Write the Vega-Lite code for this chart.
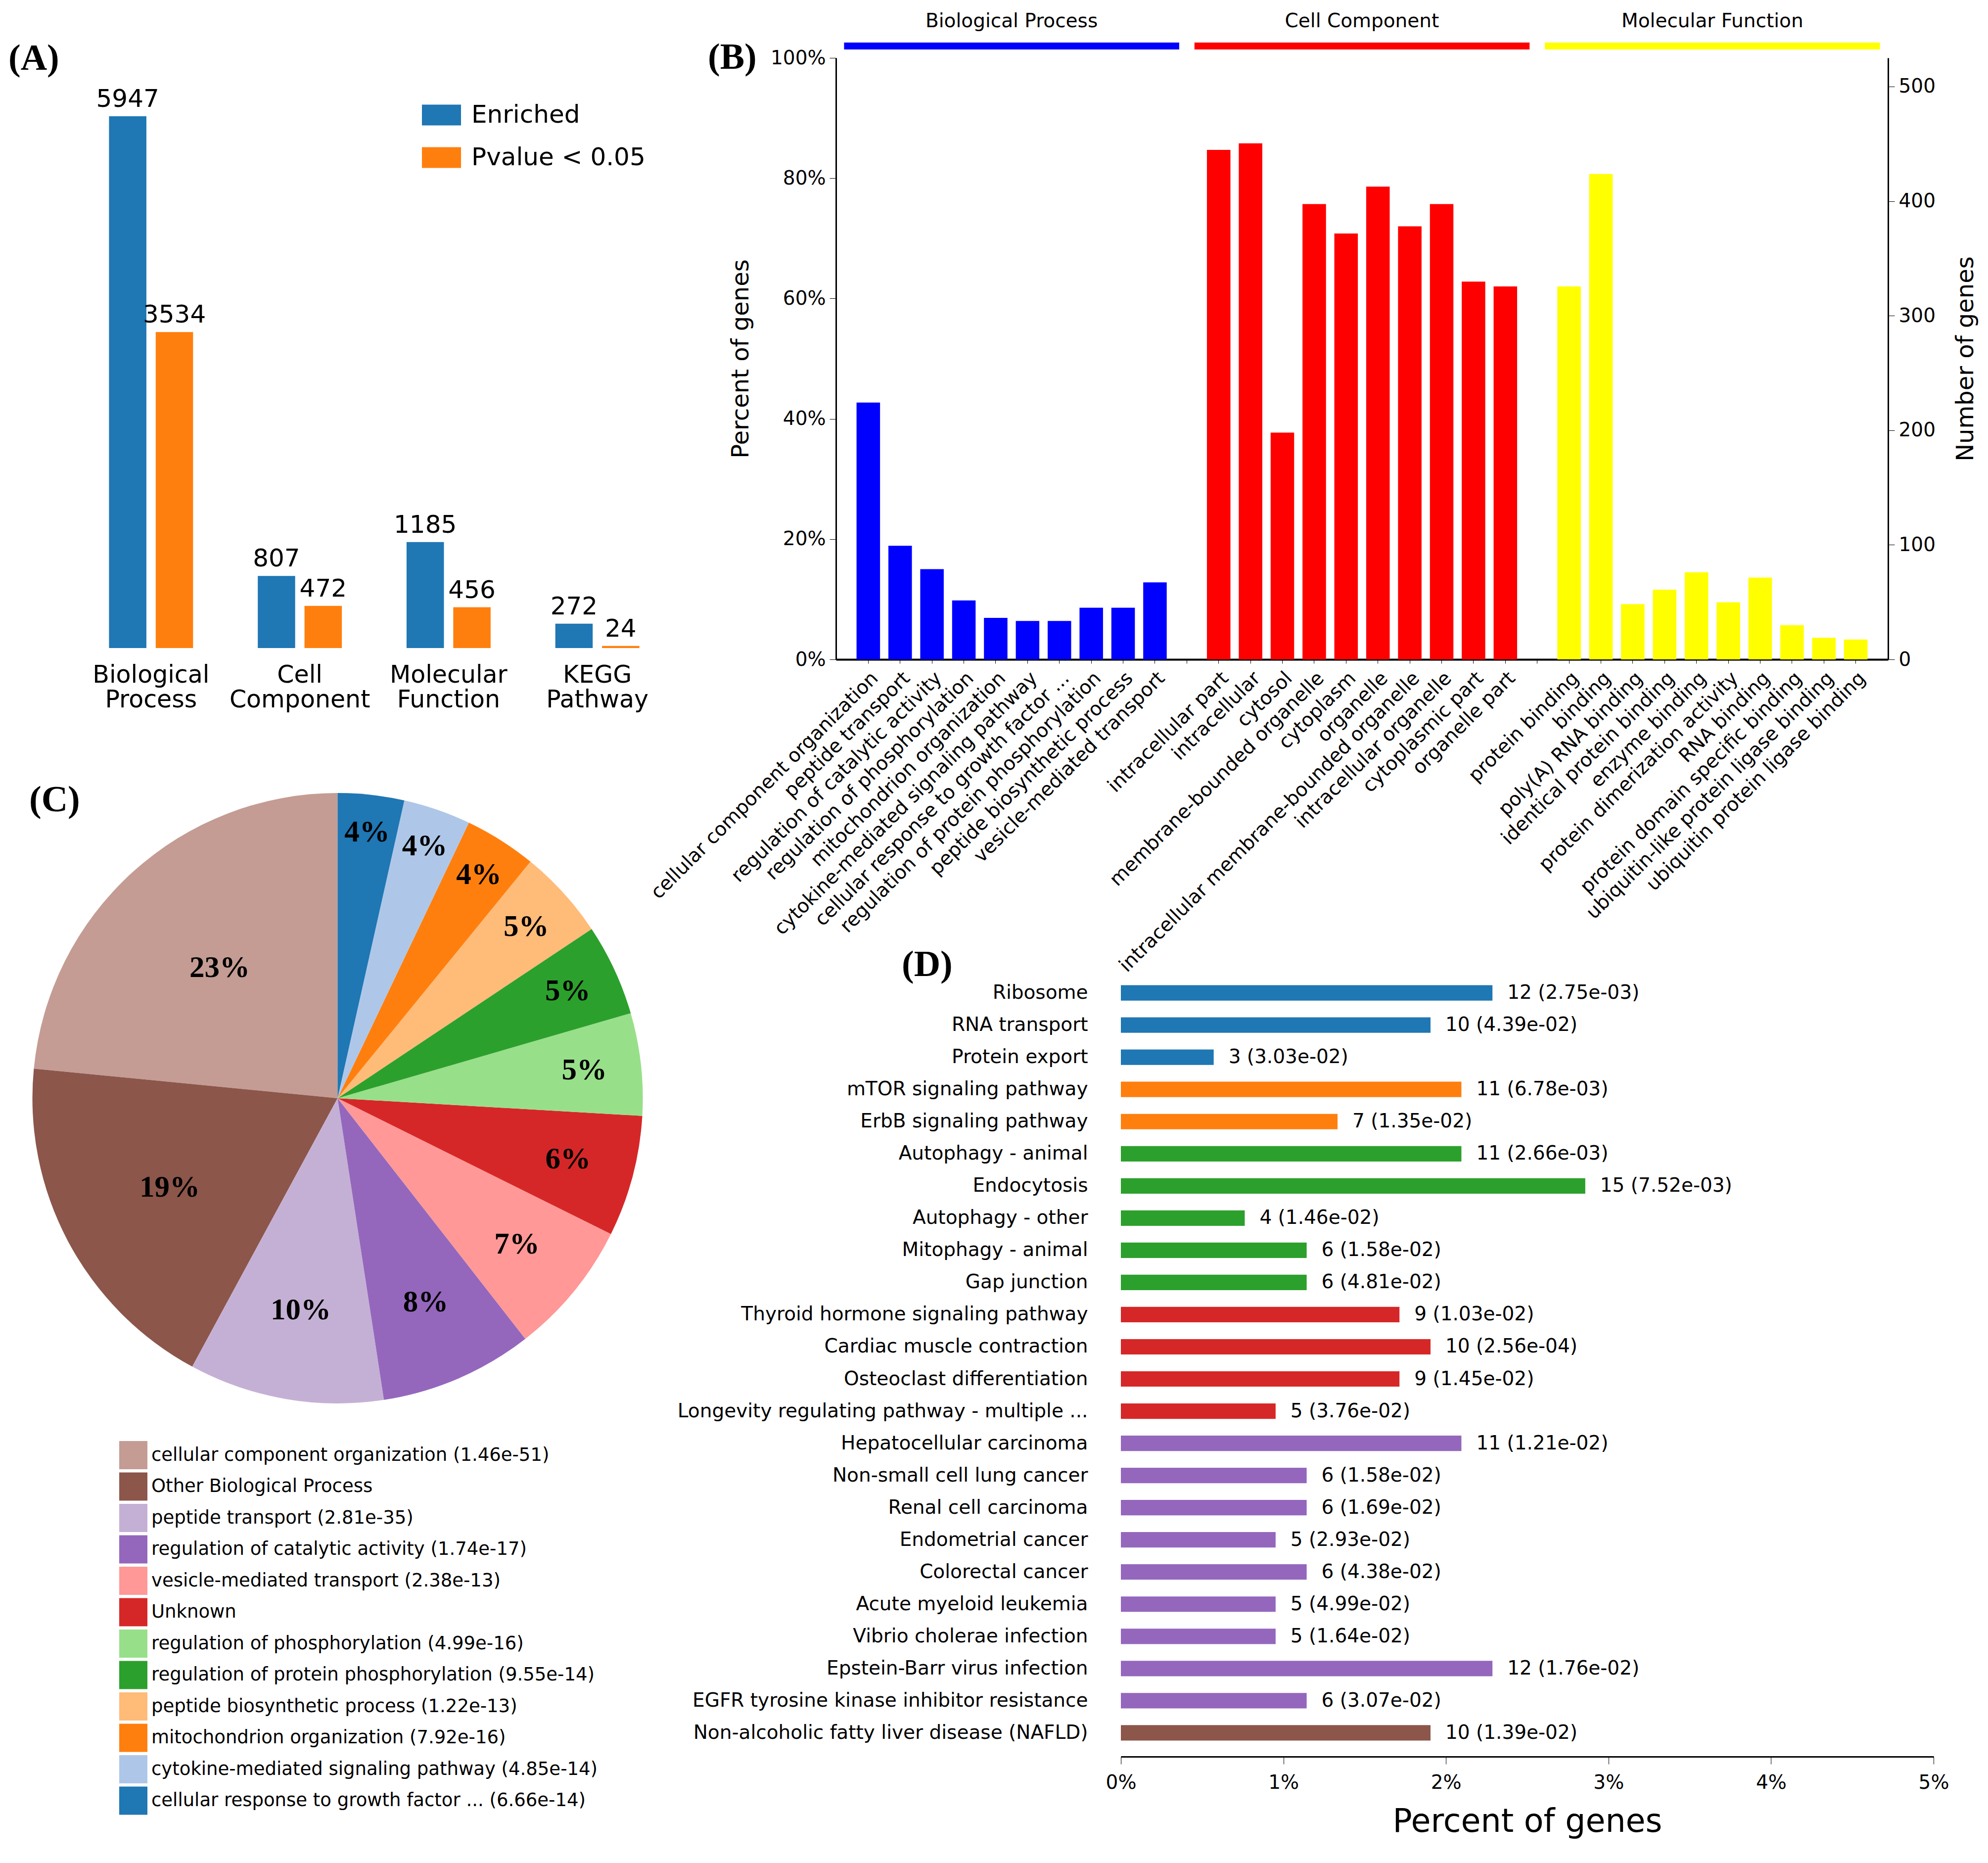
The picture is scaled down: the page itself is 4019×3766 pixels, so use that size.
{
 "$schema": "https://vega.github.io/schema/vega-lite/v6.json",
 "background": "white",
 "padding": {"left": 17, "top": 23, "right": 10, "bottom": 10},
 "columns": 2,
 "bounds": "flush",
 "align": "each",
 "spacing": {"row": 626, "column": 332},
 "resolve": {"scale": {"color": "independent"}, "legend": {"color": "independent"}},
 "config": {
  "view": {"stroke": null},
  "font": "DejaVu Sans",
  "axis": {"grid": false, "labelColor": "#000000", "titleColor": "#000000", "tickColor": "#000000", "domainColor": "#000000", "labelFont": "DejaVu Sans", "titleFont": "DejaVu Sans", "titleFontWeight": "normal"},
  "legend": {"labelColor": "#000000", "labelFont": "DejaVu Sans"},
  "title": {"font": "Liberation Serif", "fontWeight": "bold", "fontSize": 74, "color": "#000000", "anchor": "start", "frame": "group", "baseline": "bottom"}
 },
 "datasets": {
  "summary": [
   {"category": "Biological Process", "series": "Enriched", "count": 5947},
   {"category": "Biological Process", "series": "Pvalue < 0.05", "count": 3534},
   {"category": "Cell Component", "series": "Enriched", "count": 807},
   {"category": "Cell Component", "series": "Pvalue < 0.05", "count": 472},
   {"category": "Molecular Function", "series": "Enriched", "count": 1185},
   {"category": "Molecular Function", "series": "Pvalue < 0.05", "count": 456},
   {"category": "KEGG Pathway", "series": "Enriched", "count": 272},
   {"category": "KEGG Pathway", "series": "Pvalue < 0.05", "count": 24}
  ],
  "go": [
   {"term": "cellular component organization", "group": "Biological Process", "pct": 0.427},
   {"term": "peptide transport", "group": "Biological Process", "pct": 0.189},
   {"term": "regulation of catalytic activity", "group": "Biological Process", "pct": 0.150},
   {"term": "regulation of phosphorylation", "group": "Biological Process", "pct": 0.098},
   {"term": "mitochondrion organization", "group": "Biological Process", "pct": 0.069},
   {"term": "cytokine-mediated signaling pathway", "group": "Biological Process", "pct": 0.064},
   {"term": "cellular response to growth factor ...", "group": "Biological Process", "pct": 0.064},
   {"term": "regulation of protein phosphorylation", "group": "Biological Process", "pct": 0.086},
   {"term": "peptide biosynthetic process", "group": "Biological Process", "pct": 0.086},
   {"term": "vesicle-mediated transport", "group": "Biological Process", "pct": 0.128},
   {"term": "intracellular part", "group": "Cell Component", "pct": 0.847},
   {"term": "intracellular", "group": "Cell Component", "pct": 0.858},
   {"term": "cytosol", "group": "Cell Component", "pct": 0.377},
   {"term": "membrane-bounded organelle", "group": "Cell Component", "pct": 0.757},
   {"term": "cytoplasm", "group": "Cell Component", "pct": 0.708},
   {"term": "organelle", "group": "Cell Component", "pct": 0.786},
   {"term": "intracellular membrane-bounded organelle", "group": "Cell Component", "pct": 0.720},
   {"term": "intracellular organelle", "group": "Cell Component", "pct": 0.757},
   {"term": "cytoplasmic part", "group": "Cell Component", "pct": 0.628},
   {"term": "organelle part", "group": "Cell Component", "pct": 0.620},
   {"term": "protein binding", "group": "Molecular Function", "pct": 0.620},
   {"term": "binding", "group": "Molecular Function", "pct": 0.807},
   {"term": "poly(A) RNA binding", "group": "Molecular Function", "pct": 0.092},
   {"term": "identical protein binding", "group": "Molecular Function", "pct": 0.116},
   {"term": "enzyme binding", "group": "Molecular Function", "pct": 0.145},
   {"term": "protein dimerization activity", "group": "Molecular Function", "pct": 0.095},
   {"term": "RNA binding", "group": "Molecular Function", "pct": 0.136},
   {"term": "protein domain specific binding", "group": "Molecular Function", "pct": 0.057},
   {"term": "ubiquitin-like protein ligase binding", "group": "Molecular Function", "pct": 0.036},
   {"term": "ubiquitin protein ligase binding", "group": "Molecular Function", "pct": 0.033}
  ],
  "hdr": [
   {"group": "Biological Process", "first": "cellular component organization", "mid": "mitochondrion organization", "last": "vesicle-mediated transport"},
   {"group": "Cell Component", "first": "intracellular part", "mid": "cytoplasm", "last": "organelle part"},
   {"group": "Molecular Function", "first": "protein binding", "mid": "enzyme binding", "last": "ubiquitin protein ligase binding"}
  ],
  "pie": [
   {"term": "cellular component organization (1.46e-51)", "frac": 0.234},
   {"term": "Other Biological Process", "frac": 0.186},
   {"term": "peptide transport (2.81e-35)", "frac": 0.103},
   {"term": "regulation of catalytic activity (1.74e-17)", "frac": 0.081},
   {"term": "vesicle-mediated transport (2.38e-13)", "frac": 0.071},
   {"term": "Unknown", "frac": 0.064},
   {"term": "regulation of phosphorylation (4.99e-16)", "frac": 0.054},
   {"term": "regulation of protein phosphorylation (9.55e-14)", "frac": 0.0485},
   {"term": "peptide biosynthetic process (1.22e-13)", "frac": 0.0475},
   {"term": "mitochondrion organization (7.92e-16)", "frac": 0.038},
   {"term": "cytokine-mediated signaling pathway (4.85e-14)", "frac": 0.0356},
   {"term": "cellular response to growth factor ... (6.66e-14)", "frac": 0.035}
  ],
  "kegg": [
   {"term": "Ribosome", "cls": "Genetic Information Processing", "genes": 12, "pct": 0.02286, "label": "12 (2.75e-03)"},
   {"term": "RNA transport", "cls": "Genetic Information Processing", "genes": 10, "pct": 0.01905, "label": "10 (4.39e-02)"},
   {"term": "Protein export", "cls": "Genetic Information Processing", "genes": 3, "pct": 0.00571, "label": "3 (3.03e-02)"},
   {"term": "mTOR signaling pathway", "cls": "Environmental Information Processing", "genes": 11, "pct": 0.02095, "label": "11 (6.78e-03)"},
   {"term": "ErbB signaling pathway", "cls": "Environmental Information Processing", "genes": 7, "pct": 0.01333, "label": "7 (1.35e-02)"},
   {"term": "Autophagy - animal", "cls": "Cellular Processes", "genes": 11, "pct": 0.02095, "label": "11 (2.66e-03)"},
   {"term": "Endocytosis", "cls": "Cellular Processes", "genes": 15, "pct": 0.02857, "label": "15 (7.52e-03)"},
   {"term": "Autophagy - other", "cls": "Cellular Processes", "genes": 4, "pct": 0.00762, "label": "4 (1.46e-02)"},
   {"term": "Mitophagy - animal", "cls": "Cellular Processes", "genes": 6, "pct": 0.01143, "label": "6 (1.58e-02)"},
   {"term": "Gap junction", "cls": "Cellular Processes", "genes": 6, "pct": 0.01143, "label": "6 (4.81e-02)"},
   {"term": "Thyroid hormone signaling pathway", "cls": "Organismal Systems", "genes": 9, "pct": 0.01714, "label": "9 (1.03e-02)"},
   {"term": "Cardiac muscle contraction", "cls": "Organismal Systems", "genes": 10, "pct": 0.01905, "label": "10 (2.56e-04)"},
   {"term": "Osteoclast differentiation", "cls": "Organismal Systems", "genes": 9, "pct": 0.01714, "label": "9 (1.45e-02)"},
   {"term": "Longevity regulating pathway - multiple ...", "cls": "Organismal Systems", "genes": 5, "pct": 0.00952, "label": "5 (3.76e-02)"},
   {"term": "Hepatocellular carcinoma", "cls": "Human Diseases", "genes": 11, "pct": 0.02095, "label": "11 (1.21e-02)"},
   {"term": "Non-small cell lung cancer", "cls": "Human Diseases", "genes": 6, "pct": 0.01143, "label": "6 (1.58e-02)"},
   {"term": "Renal cell carcinoma", "cls": "Human Diseases", "genes": 6, "pct": 0.01143, "label": "6 (1.69e-02)"},
   {"term": "Endometrial cancer", "cls": "Human Diseases", "genes": 5, "pct": 0.00952, "label": "5 (2.93e-02)"},
   {"term": "Colorectal cancer", "cls": "Human Diseases", "genes": 6, "pct": 0.01143, "label": "6 (4.38e-02)"},
   {"term": "Acute myeloid leukemia", "cls": "Human Diseases", "genes": 5, "pct": 0.00952, "label": "5 (4.99e-02)"},
   {"term": "Vibrio cholerae infection", "cls": "Human Diseases", "genes": 5, "pct": 0.00952, "label": "5 (1.64e-02)"},
   {"term": "Epstein-Barr virus infection", "cls": "Human Diseases", "genes": 12, "pct": 0.02286, "label": "12 (1.76e-02)"},
   {"term": "EGFR tyrosine kinase inhibitor resistance", "cls": "Human Diseases", "genes": 6, "pct": 0.01143, "label": "6 (3.07e-02)"},
   {"term": "Non-alcoholic fatty liver disease (NAFLD)", "cls": "Metabolic Diseases", "genes": 10, "pct": 0.01905, "label": "10 (1.39e-02)"}
  ]
 },
 "concat": [
  {
   "title": {"text": "(A)", "dx": -138, "offset": -40},
   "width": 1203,
   "height": 1193,
   "data": {"name": "summary"},
   "encoding": {
    "x": {"field": "category", "type": "nominal", "sort": null, "scale": {"paddingInner": 0.435, "paddingOuter": 0.2175},
     "axis": {"title": null, "labelAngle": 0, "labelFontSize": 49, "labelPadding": 30, "domain": false, "ticks": false, "labelExpr": "split(datum.label, ' ')", "labelLineHeight": 50, "labelBaseline": "top", "labelLimit": 0}},
    "xOffset": {"field": "series", "type": "nominal", "sort": null, "scale": {"paddingInner": 0.2, "paddingOuter": 0}},
    "y": {"field": "count", "type": "quantitative", "scale": {"domain": [0, 6600], "nice": false}, "axis": null}
   },
   "layer": [
    {"mark": {"type": "bar"},
     "encoding": {"color": {"field": "series", "type": "nominal", "sort": null, "scale": {"domain": ["Enriched", "Pvalue < 0.05"], "range": ["#1f77b4", "#ff7f0e"]},
      "legend": {"title": null, "orient": "none", "legendX": 698, "legendY": 76, "symbolType": "M-1,-0.53H1V0.53H-1Z", "symbolSize": 6241, "symbolStrokeWidth": 0, "symbolOpacity": 1, "labelFontSize": 50, "rowPadding": 21, "labelOffset": 21, "padding": 0, "labelLimit": 0}}}},
    {"mark": {"type": "text", "dy": -19, "baseline": "alphabetic", "fontSize": 50, "color": "#000000"},
     "encoding": {"text": {"field": "count", "type": "quantitative", "format": "d"}}}
   ]
  },
  {
   "title": {"text": "(B)", "dx": -259, "offset": -131},
   "width": 2127,
   "height": 1216,
   "resolve": {"scale": {"y": "independent"}, "axis": {"y": "independent"}},
   "layer": [
    {
     "layer": [
      {"data": {"name": "go"},
       "mark": {"type": "bar"},
       "encoding": {
        "x": {"field": "term", "type": "nominal", "title": null,
         "scale": {"domain": ["cellular component organization","peptide transport","regulation of catalytic activity","regulation of phosphorylation","mitochondrion organization","cytokine-mediated signaling pathway","cellular response to growth factor ...","regulation of protein phosphorylation","peptide biosynthetic process","vesicle-mediated transport"," ","intracellular part","intracellular","cytosol","membrane-bounded organelle","cytoplasm","organelle","intracellular membrane-bounded organelle","intracellular organelle","cytoplasmic part","organelle part","  ","protein binding","binding","poly(A) RNA binding","identical protein binding","enzyme binding","protein dimerization activity","RNA binding","protein domain specific binding","ubiquitin-like protein ligase binding","ubiquitin protein ligase binding"], "paddingInner": 0.262, "paddingOuter": 0.646},
         "axis": {"title": null, "labelAngle": -45, "labelAlign": "right", "labelBaseline": "top", "labelFontSize": 39, "labelPadding": 10, "tickSize": 8, "domainWidth": 4, "labelLimit": 0, "labelOverlap": false}},
        "y": {"field": "pct", "type": "quantitative", "scale": {"domain": [0, 1], "nice": false},
         "axis": {"title": "Percent of genes", "titleFontSize": 48, "titlePadding": 35, "format": ".0%", "values": [0, 0.2, 0.4, 0.6, 0.8, 1], "labelFontSize": 39, "tickSize": 13, "labelPadding": 8, "domainWidth": 3, "labelFlush": false}},
        "color": {"field": "group", "type": "nominal", "scale": {"domain": ["Biological Process", "Cell Component", "Molecular Function"], "range": ["#0000ff", "#ff0000", "#ffff00"]}, "legend": null}
       }},
      {"data": {"name": "hdr"},
       "mark": {"type": "rule", "strokeWidth": 14},
       "encoding": {
        "x": {"field": "first", "type": "nominal", "bandPosition": -0.53, "title": null},
        "x2": {"field": "last", "bandPosition": 1.53},
        "y": {"datum": 1.0197, "type": "quantitative"},
        "color": {"field": "group", "type": "nominal", "legend": null}
       }},
      {"data": {"name": "hdr"},
       "mark": {"type": "text", "fontSize": 39, "baseline": "middle", "align": "center", "color": "#000000"},
       "encoding": {
        "x": {"field": "mid", "type": "nominal", "bandPosition": 1.177, "title": null},
        "y": {"datum": 1.061, "type": "quantitative"},
        "text": {"field": "group"}
       }}
     ]
    },
    {"data": {"values": [{"genes": 0}, {"genes": 525}]},
     "mark": {"type": "point", "opacity": 0},
     "encoding": {"y": {"field": "genes", "type": "quantitative", "scale": {"domain": [0, 525], "nice": false},
      "axis": {"orient": "right", "title": "Number of genes", "titleFontSize": 48, "titleAngle": -90, "titleBaseline": "top", "titlePadding": 38, "values": [0, 100, 200, 300, 400, 500], "labelFontSize": 39, "tickSize": 13, "labelPadding": 8, "domainWidth": 3, "labelFlush": false}}}}
   ]
  },
  {
   "title": {"text": "(C)", "dx": -96, "offset": -53},
   "width": 1055,
   "height": 522,
   "data": {"name": "pie"},
   "encoding": {
    "theta": {"field": "frac", "type": "quantitative", "stack": true},
    "order": {"field": "frac", "type": "quantitative", "sort": "ascending"}
   },
   "layer": [
    {"mark": {"type": "arc", "outerRadius": 617},
     "encoding": {"color": {"field": "term", "type": "nominal", "sort": null,
      "scale": {"range": ["#c49c94", "#8c564b", "#c5b0d5", "#9467bd", "#ff9896", "#d62728", "#98df8a", "#2ca02c", "#ffbb78", "#ff7f0e", "#aec7e8", "#1f77b4"]},
      "legend": {"title": null, "orient": "none", "legendX": 86, "legendY": 954, "symbolType": "square", "symbolSize": 3249, "symbolStrokeWidth": 0, "symbolOpacity": 1, "labelFontSize": 37, "rowPadding": 6.5, "labelOffset": 8, "padding": 0, "labelLimit": 0}}}},
    {"mark": {"type": "text", "font": "Liberation Serif", "fontWeight": "bold", "fontSize": 61},
     "encoding": {
      "detail": {"field": "term", "type": "nominal"},
      "color": {"value": "#000000"},
      "radius": {"field": "frac", "type": "quantitative", "scale": {"type": "linear", "zero": false, "nice": false, "domain": [0.035, 0.08, 0.234], "range": [540, 450, 355]}},
      "text": {"field": "frac", "type": "quantitative", "format": ".0%"}}}
   ]
  },
  {
   "title": {"text": "(D)", "dx": 133, "offset": -30},
   "width": 2219,
   "height": 1592,
   "data": {"name": "kegg"},
   "encoding": {
    "y": {"field": "term", "type": "nominal", "sort": null, "scale": {"paddingInner": 0.52, "paddingOuter": 0.5},
     "axis": {"title": null, "domain": false, "ticks": false, "labelFontSize": 39, "labelPadding": 67, "offset": -576, "labelLimit": 0}},
    "x": {"field": "pct", "type": "quantitative", "scale": {"domain": [0, 0.05], "range": [576, 2219], "nice": false},
     "axis": {"title": "Percent of genes", "titleFontSize": 65, "titlePadding": 28, "format": ".0%", "values": [0, 0.01, 0.02, 0.03, 0.04, 0.05], "labelFontSize": 39, "tickSize": 15, "labelPadding": 18, "domainWidth": 3, "labelFlush": false}}
   },
   "layer": [
    {"mark": {"type": "bar"},
     "encoding": {"color": {"field": "cls", "type": "nominal", "sort": null,
      "scale": {"domain": ["Genetic Information Processing", "Environmental Information Processing", "Cellular Processes", "Organismal Systems", "Human Diseases", "Metabolic Diseases"], "range": ["#1f77b4", "#ff7f0e", "#2ca02c", "#d62728", "#9467bd", "#8c564b"]}, "legend": null}}},
    {"mark": {"type": "text", "align": "left", "baseline": "middle", "dx": 30, "fontSize": 39, "color": "#000000"},
     "encoding": {"text": {"field": "label"}}}
   ]
  }
 ]
}
